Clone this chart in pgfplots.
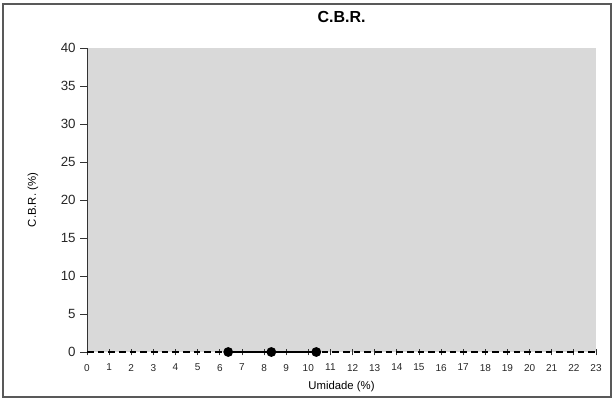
\documentclass[border=0pt]{standalone}
\usepackage{pgfplots}
\pgfplotsset{compat=1.18}
\usepackage{fontspec}
\setmainfont{Liberation Sans}
\begin{document}
\begin{tikzpicture}[x=0.75pt,y=0.75pt]
\path[use as bounding box] (-87,-48) rectangle (527,352);
\draw[gray!70!black, line width=0.8pt] (-84,-45) rectangle (524,348);
\begin{axis}[
  at={(0,0)}, anchor=origin,
  scale only axis,
  width=381.75pt, height=228pt,
  xmin=0, xmax=23, ymin=0, ymax=40,
  axis x line=bottom, axis y line=left,
  axis line style={-, black!80},
  x axis line style={draw=none},
  axis background/.style={fill=black!15},
  xtick={0,1,...,23}, ytick={0,5,...,40},
  tick style={black!80, line width=0.6pt},
  xtick align=center, ytick align=outside,
  major tick length=5pt,
  tick label style={font=\fontsize{10pt}{11pt}\selectfont, black!85},
  xticklabel style={font=\fontsize{7.5pt}{8pt}\selectfont, yshift=-3pt},
  /pgf/number format/assume math mode=true,
  title={\bfseries C.B.R.}, title style={font=\fontsize{12pt}{13pt}\selectfont, yshift=9.5pt},
  xlabel={Umidade (\%)}, ylabel={C.B.R. (\%)},
  label style={font=\fontsize{8.5pt}{10pt}\selectfont},
  xlabel style={yshift=-1pt},
  ylabel style={yshift=10pt},
  clip=false,
]
\addplot[black, dashed, line width=0.9pt, dash pattern=on 5pt off 3pt] coordinates {(0,0) (23,0)};
\addplot[black, line width=0.9pt, mark=*, mark size=3.2pt] coordinates {(6.38,0) (8.33,0) (10.36,0)};
\end{axis}
\end{tikzpicture}
\end{document}
